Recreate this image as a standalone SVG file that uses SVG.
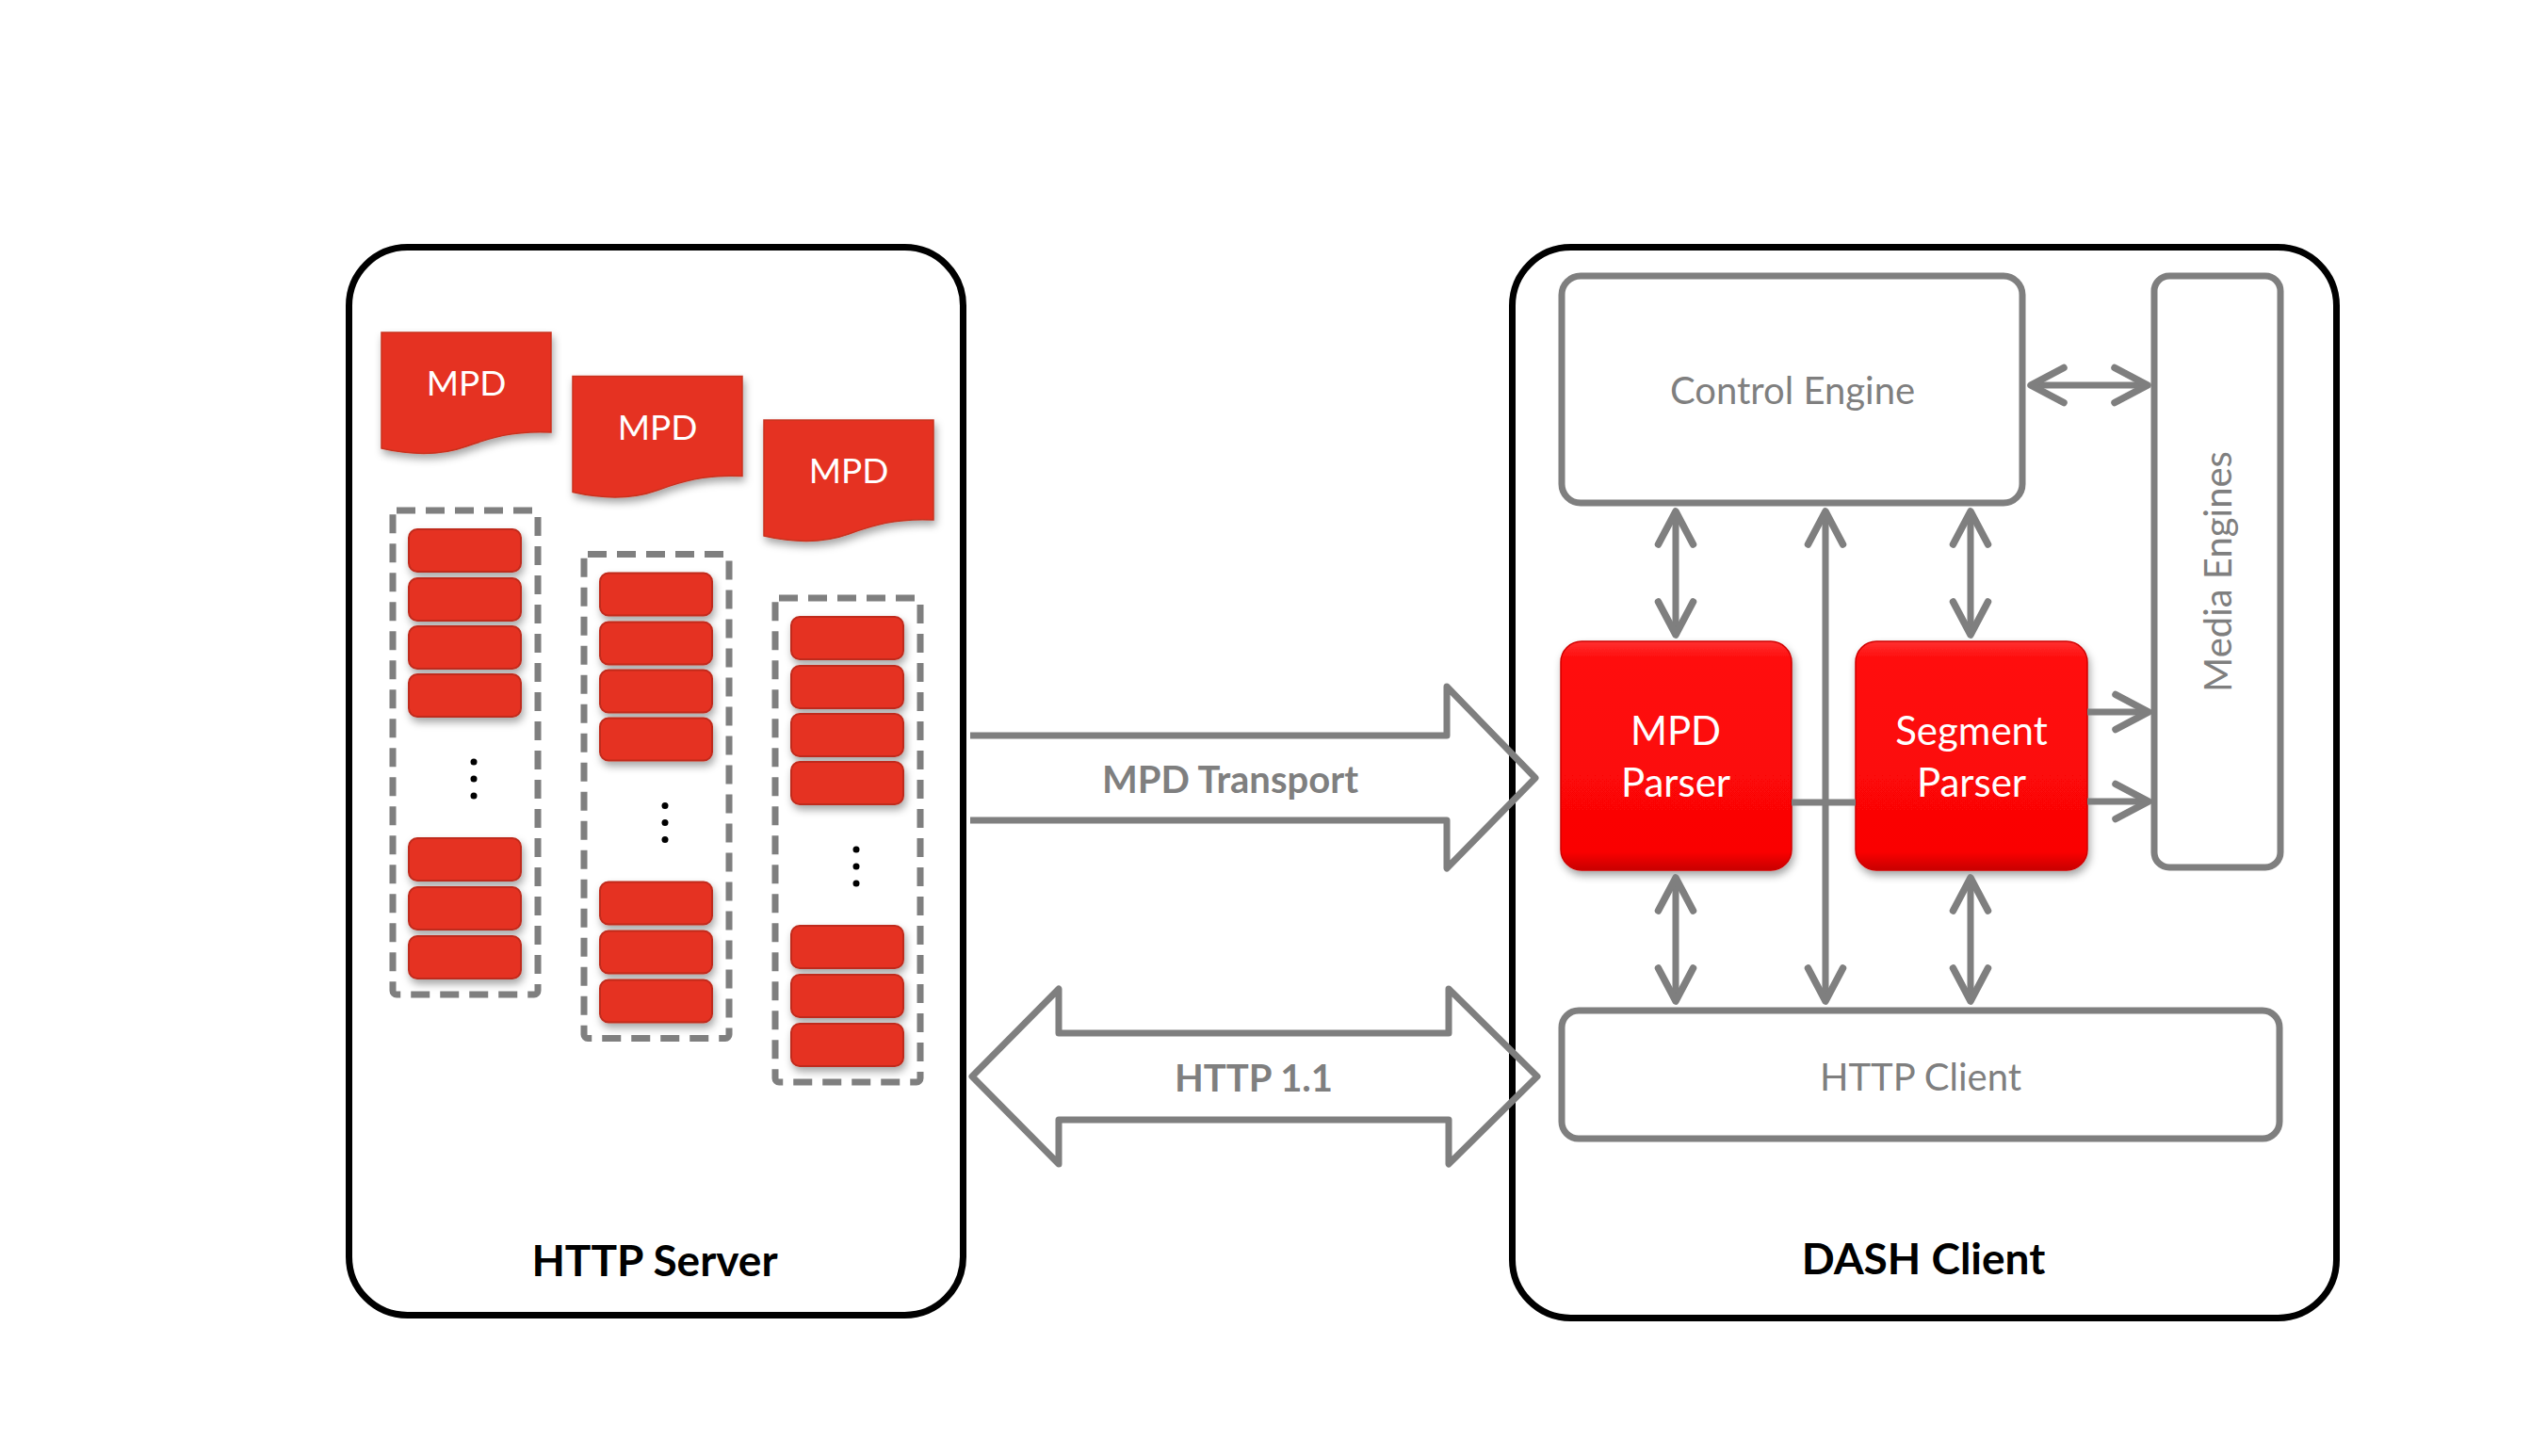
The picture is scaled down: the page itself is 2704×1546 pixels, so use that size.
<svg xmlns="http://www.w3.org/2000/svg" width="2704" height="1546" viewBox="0 0 2704 1546">
  <defs>
    <style>
      .frame { fill: #ffffff; stroke: #000000; stroke-width: 7; }
      .gbox { fill: #ffffff; stroke: #7f7f7f; stroke-width: 7; }
      .dash { fill: none; stroke: #7f7f7f; stroke-width: 7; stroke-dasharray: 20 11; }
      .seg { fill: #e53222; stroke: #c02a1c; stroke-width: 2; }
      .doc { fill: #e53222; stroke: #c9301f; stroke-width: 1.5; }
      .parser { fill: url(#redgrad); stroke: #d00000; stroke-width: 1.5; }
      .conn { fill: none; stroke: #7f7f7f; stroke-width: 7; stroke-linecap: butt; }
      .block { fill: none; stroke: #7f7f7f; stroke-width: 7; stroke-linejoin: round; }
      .t { font-family: Lato, "Liberation Sans", sans-serif; text-anchor: middle; }
      .title { font-weight: bold; font-size: 46px; fill: #000000; }
      .glabel { font-size: 40px; fill: #7f7f7f; }
      .blabel { font-weight: bold; font-size: 40px; fill: #7f7f7f; }
      .wlabel { font-size: 42px; fill: #ffffff; }
      .mpdtxt { font-size: 37px; fill: #ffffff; }
    </style>
    <linearGradient id="redgrad" x1="0" y1="0" x2="0" y2="1">
      <stop offset="0" stop-color="#ff3030"/>
      <stop offset="0.08" stop-color="#ff0a0a"/>
      <stop offset="0.92" stop-color="#fa0505"/>
      <stop offset="1" stop-color="#c80000"/>
    </linearGradient>
    <filter id="shadow" x="-15%" y="-15%" width="135%" height="150%">
      <feDropShadow dx="2" dy="5" stdDeviation="4" flood-color="#000000" flood-opacity="0.35"/>
    </filter>
    <marker id="ah" viewBox="-42 -24 46 48" refX="0" refY="0" markerWidth="46" markerHeight="48" markerUnits="userSpaceOnUse" orient="auto-start-reverse">
      <path d="M-35,-18.5 L0,0 L-35,18.5" fill="none" stroke="#7f7f7f" stroke-width="7.5" stroke-linecap="round" stroke-linejoin="round"/>
    </marker>
    <g id="column">
      <path class="doc" filter="url(#shadow)" d="M405,353 H585 V459 C545,457 520,465 495,474 C470,483 440,484 405,476 Z"/>
      <text class="t mpdtxt" x="495" y="420">MPD</text>
      <rect class="dash" x="417" y="542" width="154" height="514" rx="4"/>
      <g filter="url(#shadow)">
        <rect class="seg" x="434" y="562" width="119" height="45" rx="9"/>
        <rect class="seg" x="434" y="614" width="119" height="45" rx="9"/>
        <rect class="seg" x="434" y="665" width="119" height="45" rx="9"/>
        <rect class="seg" x="434" y="716" width="119" height="45" rx="9"/>
        <rect class="seg" x="434" y="890" width="119" height="45" rx="9"/>
        <rect class="seg" x="434" y="942" width="119" height="45" rx="9"/>
        <rect class="seg" x="434" y="994" width="119" height="45" rx="9"/>
      </g>
      <circle cx="503" cy="809" r="3.5" fill="#000000"/>
      <circle cx="503" cy="827" r="3.5" fill="#000000"/>
      <circle cx="503" cy="845" r="3.5" fill="#000000"/>
    </g>
  </defs>

  <rect x="0" y="0" width="2704" height="1546" fill="#ffffff"/>

  <g id="http-server">
    <rect class="frame" x="370.5" y="262.5" width="652" height="1134" rx="62"/>
    <text class="t title" x="695" y="1355">HTTP Server</text>
  </g>

  <g id="content-1"><use href="#column"/></g>
  <g id="content-2"><use href="#column" transform="translate(203,46.5)"/></g>
  <g id="content-3"><use href="#column" transform="translate(406,93)"/></g>

  <g id="dash-client">
    <rect class="frame" x="1605.5" y="262.5" width="875" height="1137" rx="62"/>
    <text class="t title" x="2042" y="1353">DASH Client</text>
  </g>

  <g id="transport-arrows">
    <g id="mpd-transport">
      <path class="block" d="M1030,781 H1536 V729 L1630,826 L1536,922 V871 H1030"/>
      <text class="t blabel" x="1306" y="842">MPD Transport</text>
    </g>
    <g id="http11">
      <path class="block" d="M1032,1143 L1124,1050 V1097 H1538 V1050 L1632,1143 L1538,1236 V1189 H1124 V1236 Z"/>
      <text class="t blabel" x="1331" y="1159" font-size="39">HTTP 1.1</text>
    </g>
  </g>

  <g id="control-engine">
    <rect class="gbox" x="1658" y="293" width="489" height="241" rx="20"/>
    <text class="t glabel" x="1903" y="429">Control Engine</text>
  </g>

  <g id="media-engines">
    <rect class="gbox" x="2287" y="293" width="134" height="628" rx="16"/>
    <text class="t glabel" transform="translate(2369,607) rotate(-90)" x="0" y="0">Media Engines</text>
  </g>

  <g id="mpd-parser">
    <rect class="parser" filter="url(#shadow)" x="1657" y="681" width="245" height="243" rx="22"/>
    <text class="t wlabel" x="1779" y="791">MPD</text>
    <text class="t wlabel" x="1779" y="846">Parser</text>
  </g>

  <g id="segment-parser">
    <rect class="parser" filter="url(#shadow)" x="1970" y="681" width="246" height="243" rx="22"/>
    <text class="t wlabel" x="2093" y="791">Segment</text>
    <text class="t wlabel" x="2093" y="846">Parser</text>
  </g>

  <g id="http-client">
    <rect class="gbox" x="1658" y="1073" width="762" height="136" rx="18"/>
    <text class="t glabel" x="2039" y="1158" font-size="39">HTTP Client</text>
  </g>

  <g id="connectors">
    <line class="conn" x1="2156" y1="409" x2="2280" y2="409" marker-start="url(#ah)" marker-end="url(#ah)"/>
    <line class="conn" x1="1779" y1="543" x2="1779" y2="674" marker-start="url(#ah)" marker-end="url(#ah)"/>
    <line class="conn" x1="2092" y1="543" x2="2092" y2="674" marker-start="url(#ah)" marker-end="url(#ah)"/>
    <line class="conn" x1="1938" y1="543" x2="1938" y2="1063" marker-start="url(#ah)" marker-end="url(#ah)"/>
    <line class="conn" x1="1779" y1="932" x2="1779" y2="1063" marker-start="url(#ah)" marker-end="url(#ah)"/>
    <line class="conn" x1="2092" y1="932" x2="2092" y2="1063" marker-start="url(#ah)" marker-end="url(#ah)"/>
    <line class="conn" x1="1902" y1="852" x2="1970" y2="852"/>
    <line class="conn" x1="2216" y1="756" x2="2281" y2="756" marker-end="url(#ah)"/>
    <line class="conn" x1="2216" y1="851" x2="2281" y2="851" marker-end="url(#ah)"/>
  </g>
</svg>
